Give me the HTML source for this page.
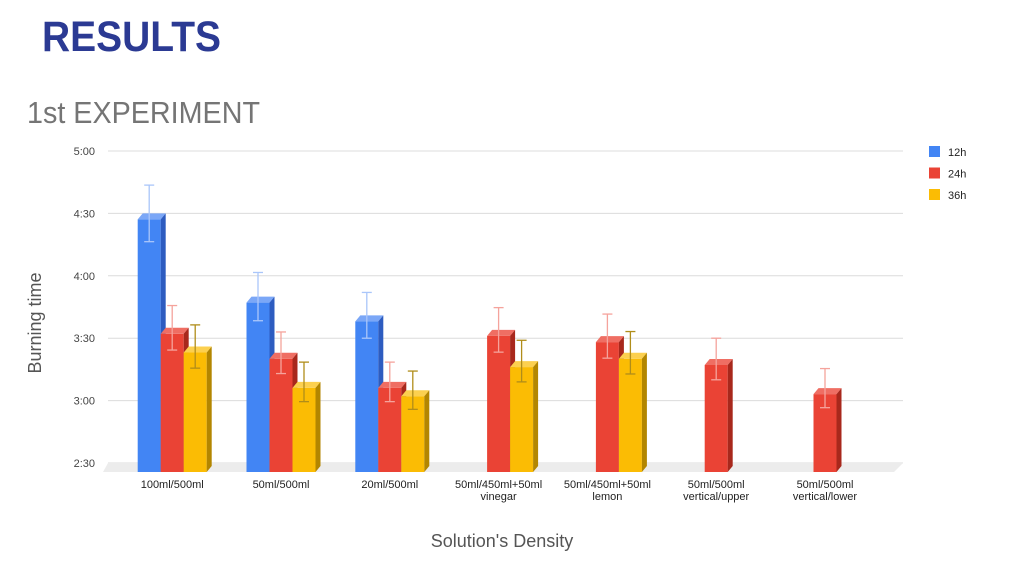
<!DOCTYPE html>
<html><head><meta charset="utf-8"><style>
html,body{margin:0;padding:0;background:#fff;}
svg{display:block;font-family:"Liberation Sans",Arial,sans-serif;}
</style></head><body>
<svg id="chart" width="1024" height="576" viewBox="0 0 1024 576">
<text x="42" y="51" font-size="43" font-weight="bold" fill="#2b3a93" textLength="179" lengthAdjust="spacingAndGlyphs">RESULTS</text>
<text x="27" y="123" font-size="31" fill="#757575" textLength="233" lengthAdjust="spacingAndGlyphs">1st EXPERIMENT</text>
<g id="grid"></g>
<g id="floor"></g>
<g id="bars"></g>
<g id="errs"></g>
<g id="xlabels"></g>
<text x="0" y="0" transform="translate(41,323) rotate(-90)" font-size="18" fill="#555" text-anchor="middle">Burning time</text>
<text x="502" y="547" font-size="18" fill="#555" text-anchor="middle">Solution's Density</text>
<g id="legend"></g>
</svg>
<script>
const categories = [["100ml/500ml"],["50ml/500ml"],["20ml/500ml"],["50ml/450ml+50ml","vinegar"],["50ml/450ml+50ml","lemon"],["50ml/500ml","vertical/upper"],["50ml/500ml","vertical/lower"]];
const seriesNames = ["12h","24h","36h"];
// values in minutes
const s12 = [270, 230, 221, null, null, null, null];
const s24 = [215, 203, 189, 214, 211, 200, 186];
const s36 = [206, 189, 185, 199, 203, null, null];
const e12 = [13.6, 11.6, 11, null, null, null, null];
const e24 = [10.7, 10, 9.5, 10.7, 10.6, 10, 9.4];
const e36 = [10.4, 9.5, 9.2, 10, 10.2, null, null];
const yTicks = [150, 180, 210, 240, 270, 300];
const yTickLabels = ["2:30","3:00","3:30","4:00","4:30","5:00"];

const NS="http://www.w3.org/2000/svg";
function mk(tag,attrs,parent){const e=document.createElementNS(NS,tag);for(const k in attrs)e.setAttribute(k,attrs[k]);parent.appendChild(e);return e;}
const yMin=150,yMax=300,yTop=151,yBot=463;
function y(v){return yBot-(v-yMin)/(yMax-yMin)*(yBot-yTop);}
const x0=137.7, groupW=108.8, barW=23, dx=5, dy=6;
function xBar(g,s){return x0+g*groupW+s*barW;}

const grid=document.getElementById('grid');
yTicks.forEach((t,i)=>{
  const l=mk('line',{x1:108,x2:903,y1:y(t),y2:y(t),stroke:'#dcdcdc','stroke-width':1},grid);
  
  
  const tx=mk('text',{x:95,y:y(t)+4,'font-size':11,fill:'#444','text-anchor':'end'},grid);
  tx.textContent=yTickLabels[i];
  
  
});
const fl=mk('polygon',{points:`108,${yBot} 903,${yBot} 894,${yBot+9} 103,${yBot+9}`,fill:'#ececec'},document.getElementById('floor'));



const colors=[["#4285f4","#7ba7f7","#2d5cc0"],["#ea4335","#ef6e63","#a8281c"],["#fbbc04","#fcd04f","#b38600"]];
const errColors=["#aac6fa","#f5a39c","#b08d1a"];
const series=[s12,s24,s36], errs=[e12,e24,e36];
const bars=document.getElementById('bars'), eg=document.getElementById('errs');
const base=yBot+9;
series.forEach((arr,s)=>{
  arr.forEach((v,g)=>{
    if(v==null)return;
    const xl=xBar(g,s), yt=y(v)+dy;
    const grp=mk('g',{},bars);
    
    
    mk('rect',{x:xl,y:yt,width:barW,height:base-yt,fill:colors[s][0]},grp);
    mk('polygon',{points:`${xl},${yt} ${xl+dx},${yt-dy} ${xl+barW+dx},${yt-dy} ${xl+barW},${yt}`,fill:colors[s][1]},grp);
    mk('polygon',{points:`${xl+barW},${yt} ${xl+barW+dx},${yt-dy} ${xl+barW+dx},${base-dy} ${xl+barW},${base}`,fill:colors[s][2]},grp);
    const e=errs[s][g];
    if(e!=null){
      const cx=xl+barW/2, y1=y(v+e), y2=y(v-e);
      const eb=mk('g',{stroke:errColors[s],'stroke-width':1.3},eg);
      
      
      mk('line',{x1:cx,x2:cx,y1:y1,y2:y2},eb);
      mk('line',{x1:cx-5,x2:cx+5,y1:y1,y2:y1},eb);
      mk('line',{x1:cx-5,x2:cx+5,y1:y2,y2:y2},eb);
    }
  });
});
const xl=document.getElementById('xlabels');
categories.forEach((c,g)=>{
  const cx=x0+g*groupW+barW*1.5;
  c.forEach((line,k)=>{
    const t=mk('text',{x:cx,y:488+k*12,'font-size':11,fill:'#222','text-anchor':'middle'},xl);
    t.textContent=line;
    
    
  });
});
const lg=document.getElementById('legend');
seriesNames.forEach((n,i)=>{
  const g=mk('g',{},lg);
  
  
  mk('rect',{x:929,y:146+i*21.5,width:11,height:11,fill:colors[i][0]},g);
  const t=mk('text',{x:948,y:156+i*21.5,'font-size':11,fill:'#222'},g);
  t.textContent=n;
});
</script>
</body></html>
